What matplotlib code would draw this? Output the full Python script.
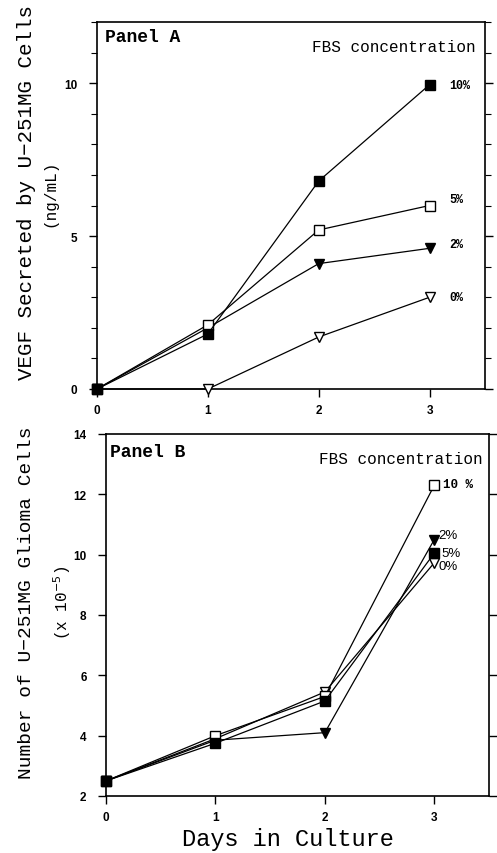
import matplotlib
matplotlib.use("Agg")
import matplotlib.pyplot as plt
from matplotlib.font_manager import FontProperties
from matplotlib.ticker import MultipleLocator

days = [0, 1, 2, 3]

# Panel A: VEGF secreted (ng/mL)
vegf_10 = [0, 1.8, 6.8, 9.95]
vegf_5 = [0, 2.1, 5.2, 6.0]
vegf_2 = [0, 2.0, 4.1, 4.6]
vegf_0 = [0, 0, 1.7, 3.0]

# Panel B: cell number (x 10^-5)
cells_10 = [2.5, 4.0, 5.3, 12.3]
cells_5 = [2.5, 3.75, 5.15, 10.05]
cells_2 = [2.5, 3.85, 4.1, 10.5]
cells_0 = [2.5, 3.9, 5.45, 9.73]

mono = "Liberation Mono"
W, H = 497, 854


def px(x, y):
    # pixel position -> figure fraction
    return x / W, 1 - y / H


fig = plt.figure(figsize=(4.97, 8.54), dpi=100)
axA = fig.add_axes([97 / W, 1 - 390 / H, (485 - 97) / W, (390 - 23) / H])
axB = fig.add_axes([106 / W, 1 - 797 / H, (489 - 106) / W, (797 - 435) / H])

lw = 0.9
ms = 6.5
sq_f = dict(marker="s", color="black", mfc="black", ms=ms, lw=lw)
sq_o = dict(marker="s", color="black", mfc="white", ms=ms, lw=lw)
tr_f = dict(marker="v", color="black", mfc="black", ms=ms + 1, lw=lw)
tr_o = dict(marker="v", color="black", mfc="white", ms=ms + 1, lw=lw)

# Panel A
axA.plot(days, vegf_0, clip_on=False, zorder=3, **tr_o)
axA.plot(days, vegf_2, clip_on=False, zorder=3, **tr_f)
axA.plot(days, vegf_5, clip_on=False, zorder=3, **sq_o)
axA.plot(days, vegf_10, clip_on=False, zorder=4, **sq_f)
axA.set_xlim(0, 3.5)
axA.set_ylim(0, 12)
axA.yaxis.set_major_locator(MultipleLocator(5))
axA.yaxis.set_minor_locator(MultipleLocator(1))
axA.text(*px(105, 38), "Panel A", transform=fig.transFigure, ha="left",
         va="center", family=mono, weight="bold", size=13)
axA.text(*px(476, 48), "FBS concentration", transform=fig.transFigure,
         ha="right", va="center", family=mono, size=11.5)
for lab, yv, dy in [("10%", vegf_10[-1], 0.0), ("5%", vegf_5[-1], 0.2),
                    ("2%", vegf_2[-1], 0.15), ("0%", vegf_0[-1], 0.0)]:
    axA.annotate(lab, (3, yv + dy), xytext=(14, 0), textcoords="offset points",
                 va="center", ha="left", family=mono, weight="bold", size=8.5)
fig.text(*px(27, 193), "VEGF Secreted by U\u2212251MG Cells", rotation=90,
         ha="center", va="center", family=mono, size=15)
fig.text(*px(50, 193), "(ng/mL)", rotation=90, ha="center", va="center",
         family=mono, size=11.5)

# Panel B
axB.plot(days, cells_0, clip_on=False, zorder=3, **tr_o)
axB.plot(days, cells_2, clip_on=False, zorder=3, **tr_f)
axB.plot(days, cells_10, clip_on=False, zorder=3, **sq_o)
axB.plot(days, cells_5, clip_on=False, zorder=4, **sq_f)
axB.set_xlim(0, 3.5)
axB.set_ylim(2, 14)
axB.yaxis.set_major_locator(MultipleLocator(2))
axB.text(*px(110, 453), "Panel B", transform=fig.transFigure, ha="left",
         va="center", family=mono, weight="bold", size=13)
axB.text(*px(483, 460), "FBS concentration", transform=fig.transFigure,
         ha="right", va="center", family=mono, size=11.5)
axB.annotate("10 %", (3, cells_10[-1]), xytext=(6, 1), textcoords="offset points",
             va="center", ha="left", family=mono, weight="bold", size=9)
axB.annotate("2%", (3, cells_2[-1]), xytext=(3, 3), textcoords="offset points",
             va="center", ha="left", family="Liberation Sans", size=9.5)
axB.annotate("5%", (3, cells_5[-1]), xytext=(5, 0), textcoords="offset points",
             va="center", ha="left", family="Liberation Sans", size=9.5)
axB.annotate("0%", (3, cells_0[-1]), xytext=(3, -2), textcoords="offset points",
             va="center", ha="left", family="Liberation Sans", size=9.5)
fig.text(*px(27, 603), "Number of U\u2212251MG Glioma Cells", rotation=90,
         ha="center", va="center", family=mono, size=14)
fig.text(*px(62, 603), r"(x 10$^{-5}$)", rotation=90, ha="center",
         va="center", family=mono, size=11.5)
fig.text(*px(288, 840), "Days in Culture", ha="center", va="center",
         family=mono, size=17)

tickfont = FontProperties(family="Liberation Sans", weight="bold", size=8.5)
for ax in (axA, axB):
    ax.set_xticks(days)
    ax.tick_params(axis="both", which="major", direction="out", length=6,
                   width=1, pad=5)
    ax.tick_params(axis="y", which="major", pad=8)
    ax.tick_params(axis="y", which="both", right=True)
    ax.tick_params(axis="y", which="minor", direction="out", length=4, width=0.8)
    for lbl in ax.get_xticklabels() + ax.get_yticklabels():
        lbl.set_fontproperties(tickfont)
    for sp in ax.spines.values():
        sp.set_linewidth(1.2)

fig.savefig("out.png", dpi=100)
